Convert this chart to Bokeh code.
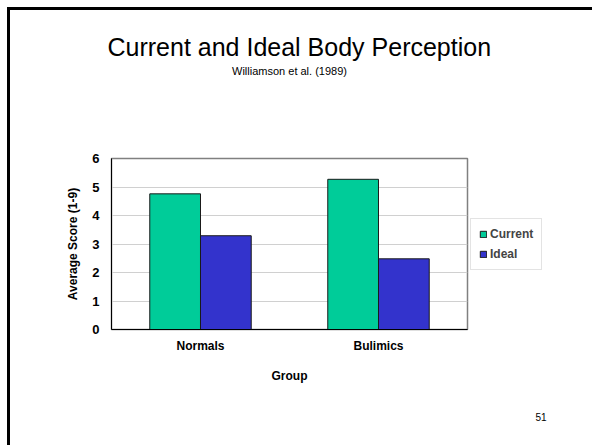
from bokeh.plotting import figure
from bokeh.models import ColumnDataSource, Legend, LegendItem, Title, FactorRange
from bokeh.transform import dodge
from bokeh.embed import file_html
from bokeh.resources import INLINE

groups = ["Normals", "Bulimics"]
current = [4.76, 5.27]
ideal = [3.29, 2.48]
series = ["Current", "Ideal"]
colors = ["#00CC99", "#3333CC"]
y_ticks = [0, 1, 2, 3, 4, 5, 6]

source = ColumnDataSource(data=dict(group=groups, current=current, ideal=ideal))

p = figure(x_range=FactorRange(*groups, range_padding=0), y_range=(0, 6),
           frame_width=356, frame_height=171, output_backend="svg", toolbar_location=None,
           min_border_left=101, min_border_right=125, min_border_top=148, min_border_bottom=116)
p.styles = {"border-top": "3px solid black", "border-left": "3px solid black",
            "margin-left": "7px", "margin-top": "7px"}

r1 = p.vbar(x=dodge("group", -0.1425, range=p.x_range), top="current", width=0.285, source=source,
            fill_color=colors[0], line_color="#1a1a1a", line_width=1)
r2 = p.vbar(x=dodge("group", 0.1425, range=p.x_range), top="ideal", width=0.285, source=source,
            fill_color=colors[1], line_color="#1a1a1a", line_width=1)

p.outline_line_color = "#808080"
p.outline_line_width = 1.5
p.xgrid.grid_line_color = None
p.ygrid.grid_line_color = "#d0d0d0"
p.ygrid.grid_line_width = 1

p.yaxis.ticker = y_ticks
p.yaxis.axis_line_color = "black"
p.yaxis.major_tick_out = 0
p.yaxis.major_tick_in = 0
p.yaxis.minor_tick_line_color = None
p.yaxis.major_label_text_font = "Liberation Sans"
p.yaxis.major_label_text_font_style = "bold"
p.yaxis.major_label_text_font_size = "13px"
p.yaxis.major_label_text_color = "black"
p.yaxis.major_label_standoff = 12
p.yaxis.axis_label = "Average Score (1-9)"
p.yaxis.axis_label_text_font = "Liberation Sans"
p.yaxis.axis_label_text_font_style = "bold"
p.yaxis.axis_label_text_font_size = "12px"
p.yaxis.axis_label_text_color = "black"
p.yaxis.axis_label_standoff = 9

p.xaxis.axis_line_color = "black"
p.xaxis.major_tick_out = 0
p.xaxis.major_tick_in = 0
p.xaxis.major_label_text_font = "Liberation Sans"
p.xaxis.major_label_text_font_style = "bold"
p.xaxis.major_label_text_font_size = "12px"
p.xaxis.major_label_text_color = "black"
p.xaxis.major_label_standoff = 9
p.xaxis.axis_label = "Group"
p.xaxis.axis_label_text_font = "Liberation Sans"
p.xaxis.axis_label_text_font_style = "bold"
p.xaxis.axis_label_text_font_size = "12px"
p.xaxis.axis_label_text_color = "black"
p.xaxis.axis_label_standoff = 13

legend = Legend(items=[LegendItem(label=series[0], renderers=[r1]),
                       LegendItem(label=series[1], renderers=[r2])],
                location="left", orientation="vertical",
                glyph_width=8, glyph_height=8, label_text_font="Liberation Sans",
                label_text_font_style="bold", label_text_font_size="12px",
                label_standoff=3, spacing=6, padding=8, margin=3,
                border_line_color="#c8c8c8", background_fill_alpha=1)
p.add_layout(legend, "right")

# spacer between the frame and the subtitle
p.add_layout(Title(text=" ", standoff=79, text_font_size="1px"), "above")
p.add_layout(Title(text="Williamson et al. (1989)", align="center", standoff=0,
                   text_font="Liberation Sans", text_font_size="11px", text_font_style="normal",
                   text_color="black"), "above")
p.add_layout(Title(text="Current and Ideal Body Perception", align="left", offset=-4, standoff=4,
                   text_font="Liberation Sans", text_font_size="25px", text_font_style="normal",
                   text_color="black"), "above")
p.add_layout(Title(text="51", align="left", offset=424, standoff=50,
                   text_font="Liberation Sans", text_font_size="10px", text_font_style="normal",
                   text_color="black"), "below")

open("out.html", "w").write(file_html(p, INLINE))
